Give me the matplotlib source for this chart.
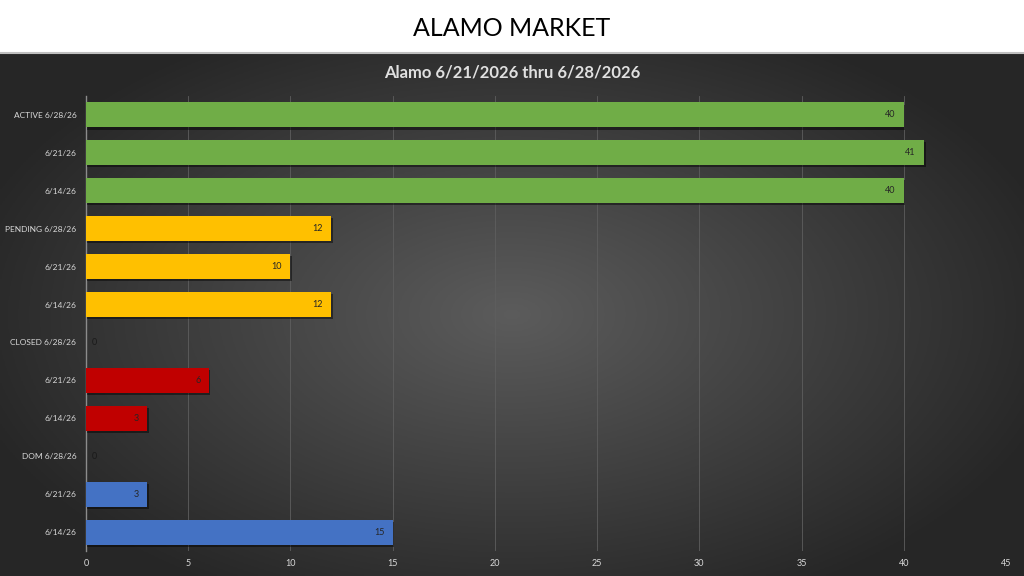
import matplotlib.pyplot as plt
import matplotlib.patheffects as pe
import numpy as np

plt.rcParams['font.family'] = ['Lato', 'DejaVu Sans']

categories = ["ACTIVE 6/28/26", "6/21/26", "6/14/26",
              "PENDING 6/28/26", "6/21/26", "6/14/26",
              "CLOSED 6/28/26", "6/21/26", "6/14/26",
              "DOM 6/28/26", "6/21/26", "6/14/26"]
values = [40, 41, 40, 12, 10, 12, 0, 6, 3, 0, 3, 15]
colors = ["#70AD47"] * 3 + ["#FFC000"] * 3 + ["#C00000"] * 3 + ["#4472C4"] * 3
xticks = [0, 5, 10, 15, 20, 25, 30, 35, 40, 45]

fig = plt.figure(figsize=(10.24, 5.76), dpi=100)
fig.patch.set_facecolor("white")

# dark radial background below the white title band
band = 53 / 576
bg = fig.add_axes([0, 0, 1, 1 - band])
bg.set_axis_off()
gx, gy = np.meshgrid(np.linspace(-1, 1, 400), np.linspace(-1, 1, 220))
r = np.sqrt(gx ** 2 + (gy * 0.9) ** 2)
shade = np.clip(0.36 - 0.19 * r, 0.15, 0.36)
bg.imshow(np.dstack([shade] * 3), aspect="auto", extent=[0, 1, 0, 1])
bg.set_xlim(0, 1)
bg.set_ylim(0, 1)

fig.add_artist(plt.Line2D([0, 1], [1 - band, 1 - band], color="#bfbfbf", lw=1.5))
fig.text(0.5, 1 - 28 / 576, "ALAMO MARKET", ha="center", va="center",
         fontsize=18, color="black")
fig.text(0.5, 1 - 72 / 576, "Alamo 6/21/2026 thru 6/28/2026", ha="center",
         va="center", fontsize=12, color="#e0e0e0", fontweight="bold")

ax = fig.add_axes([86 / 1024, 25 / 576, 920 / 1024, 455 / 576])
ax.set_facecolor("none")
y = np.arange(len(categories))
bars = ax.barh(y, values, height=0.66, color=colors, zorder=3)
for b in bars:
    b.set_path_effects([pe.SimplePatchShadow(offset=(1, -1.5), shadow_rgbFace="black", alpha=0.45),
                        pe.Normal()])

for yi, v in zip(y, values):
    if v > 0:
        ax.annotate(str(v), (v, yi), xytext=(-6, 0), textcoords="offset points",
                    ha="right", va="center", fontsize=6.5, color="#262626", zorder=4)
    else:
        ax.annotate(str(v), (0, yi), xytext=(4, 0), textcoords="offset points",
                    ha="left", va="center", fontsize=6.5, color="#1a1a1a", zorder=4)

ax.set_ylim(len(categories) - 0.5, -0.5)
ax.set_yticks(y)
ax.set_yticklabels(categories)
ax.set_xlim(0, 45)
ax.set_xticks(xticks)
ax.tick_params(axis="y", length=0, labelsize=6, colors="#d9d9d9", pad=7)
ax.tick_params(axis="x", length=0, labelsize=6.5, colors="#d9d9d9", pad=6)
ax.grid(axis="x", color="#5e5e5e", lw=0.6, zorder=0)
for s in ["top", "right", "bottom"]:
    ax.spines[s].set_visible(False)
ax.spines["left"].set_color("#8c8c8c")
ax.spines["left"].set_linewidth(1)

fig.savefig("out.png", dpi=100)
